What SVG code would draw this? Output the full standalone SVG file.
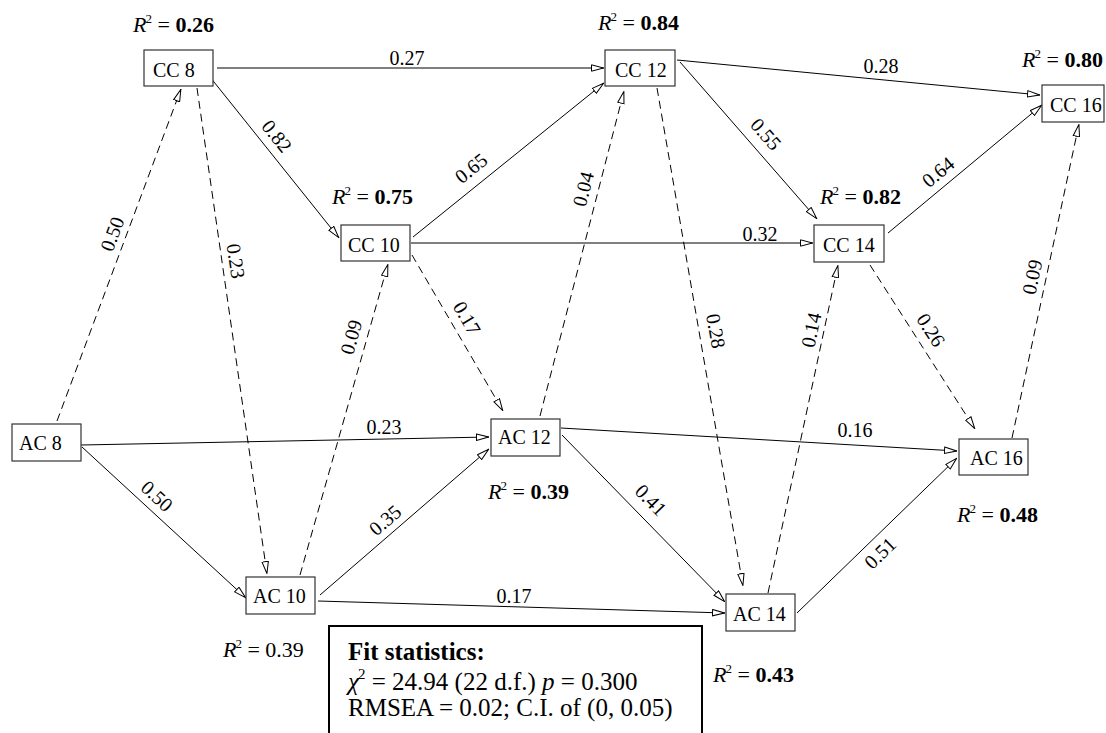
<svg xmlns="http://www.w3.org/2000/svg" width="1106" height="733" viewBox="0 0 1106 733">
<style>
.box{fill:#fff;stroke:#333;stroke-width:1.2}
.nt{font-family:"Liberation Serif",serif;font-size:20px;fill:#000}
.el{font-family:"Liberation Serif",serif;font-size:20px;fill:#000;text-anchor:middle}
.r2{font-family:"Liberation Serif",serif;font-size:22px;fill:#000}
.b{font-weight:bold}
.it{font-style:italic}
.sl{fill:none;stroke:#000;stroke-width:1;marker-end:url(#ah)}
.dl{fill:none;stroke:#000;stroke-width:1;stroke-dasharray:8 5;marker-end:url(#ah)}
.fit{font-family:"Liberation Serif",serif;font-size:25px;fill:#000}
</style>
<defs>
<marker id="ah" viewBox="0 0 13 8" refX="13" refY="4" markerWidth="13" markerHeight="8" markerUnits="userSpaceOnUse" orient="auto">
<path d="M0.5,0.8 L12.5,4 L0.5,7.2 z" fill="#fff" stroke="#000" stroke-width="1"/>
</marker>
</defs>
<rect width="1106" height="733" fill="#fff"/>
<g id="connectors">
<line class="sl" x1="217" y1="68" x2="604" y2="68"/>
<line class="sl" x1="210" y1="77" x2="339" y2="238"/>
<line class="sl" x1="413" y1="237" x2="604" y2="83"/>
<line class="sl" x1="411" y1="243" x2="813" y2="243"/>
<line class="sl" x1="677" y1="60" x2="1040" y2="95"/>
<line class="sl" x1="680" y1="62" x2="817" y2="219"/>
<line class="sl" x1="888" y1="233" x2="1042" y2="105"/>
<line class="sl" x1="81" y1="445" x2="489" y2="437"/>
<line class="sl" x1="82" y1="447" x2="246" y2="598"/>
<line class="sl" x1="320" y1="595" x2="489" y2="449"/>
<line class="sl" x1="318" y1="601" x2="725" y2="613"/>
<line class="sl" x1="561" y1="428" x2="957" y2="451"/>
<line class="sl" x1="562" y1="435" x2="725" y2="602"/>
<line class="sl" x1="797" y1="613" x2="957" y2="458"/>
<line class="dl" x1="57" y1="421" x2="181" y2="89"/>
<line class="dl" x1="197" y1="88" x2="267" y2="574"/>
<line class="dl" x1="300" y1="575" x2="388" y2="264"/>
<line class="dl" x1="412" y1="255" x2="503" y2="411"/>
<line class="dl" x1="540" y1="416" x2="624" y2="91"/>
<line class="dl" x1="657" y1="88" x2="743" y2="586"/>
<line class="dl" x1="768" y1="593" x2="838" y2="265"/>
<line class="dl" x1="870" y1="265" x2="975" y2="429"/>
<line class="dl" x1="1012" y1="438" x2="1079" y2="124"/>
<g id="edge-labels">
<text class="el" x="407" y="58" dy="0.35em">0.27</text>
<text class="el" x="881" y="66" dy="0.35em">0.28</text>
<text class="el" x="760" y="234" dy="0.35em">0.32</text>
<text class="el" x="384" y="427" dy="0.35em">0.23</text>
<text class="el" x="514" y="596" dy="0.35em">0.17</text>
<text class="el" x="855" y="430" dy="0.35em">0.16</text>
<text class="el" transform="translate(277,136) rotate(51.2)" dy="0.35em">0.82</text>
<text class="el" transform="translate(471,168) rotate(-39)" dy="0.35em">0.65</text>
<text class="el" transform="translate(766,134) rotate(48.9)" dy="0.35em">0.55</text>
<text class="el" transform="translate(938,172) rotate(-39.7)" dy="0.35em">0.64</text>
<text class="el" transform="translate(157,496) rotate(42.6)" dy="0.35em">0.50</text>
<text class="el" transform="translate(385,520) rotate(-40.8)" dy="0.35em">0.35</text>
<text class="el" transform="translate(651,500) rotate(45.7)" dy="0.35em">0.41</text>
<text class="el" transform="translate(880,553) rotate(-44)" dy="0.35em">0.51</text>
<text class="el" transform="translate(112,234) rotate(-69.5)" dy="0.35em">0.50</text>
<text class="el" transform="translate(236,261) rotate(81.8)" dy="0.35em">0.23</text>
<text class="el" transform="translate(351,337) rotate(-74.2)" dy="0.35em">0.09</text>
<text class="el" transform="translate(467,318) rotate(59.7)" dy="0.35em">0.17</text>
<text class="el" transform="translate(583,189) rotate(-75.5)" dy="0.35em">0.04</text>
<text class="el" transform="translate(716,331) rotate(80.2)" dy="0.35em">0.28</text>
<text class="el" transform="translate(811,330) rotate(-78)" dy="0.35em">0.14</text>
<text class="el" transform="translate(931,330) rotate(57.4)" dy="0.35em">0.26</text>
<text class="el" transform="translate(1032,277) rotate(-78)" dy="0.35em">0.09</text>
</g>
</g>
<g id="CC8"><rect class="box" x="144" y="50" width="69" height="36"/><text class="nt" x="153" y="77">CC 8</text>
<text class="r2" x="133" y="32"><tspan class="it">R</tspan><tspan font-size="13" dx="-1" dy="-9">2</tspan><tspan dy="9"> = </tspan><tspan class="b">0.26</tspan></text></g>
<g id="CC12"><rect class="box" x="605" y="50" width="70" height="36"/><text class="nt" x="615" y="77">CC 12</text>
<text class="r2" x="598" y="30"><tspan class="it">R</tspan><tspan font-size="13" dx="-1" dy="-9">2</tspan><tspan dy="9"> = </tspan><tspan class="b">0.84</tspan></text></g>
<g id="CC16"><rect class="box" x="1042" y="85" width="62" height="37"/><text class="nt" x="1050" y="112">CC 16</text>
<text class="r2" x="1022" y="67"><tspan class="it">R</tspan><tspan font-size="13" dx="-1" dy="-9">2</tspan><tspan dy="9"> = </tspan><tspan class="b">0.80</tspan></text></g>
<g id="CC10"><rect class="box" x="341" y="225" width="69" height="36"/><text class="nt" x="348" y="252">CC 10</text>
<text class="r2" x="332" y="204"><tspan class="it">R</tspan><tspan font-size="13" dx="-1" dy="-9">2</tspan><tspan dy="9"> = </tspan><tspan class="b">0.75</tspan></text></g>
<g id="CC14"><rect class="box" x="814" y="225" width="70" height="37"/><text class="nt" x="823" y="252">CC 14</text>
<text class="r2" x="820" y="204"><tspan class="it">R</tspan><tspan font-size="13" dx="-1" dy="-9">2</tspan><tspan dy="9"> = </tspan><tspan class="b">0.82</tspan></text></g>
<g id="AC8"><rect class="box" x="12" y="424" width="69" height="37"/><text class="nt" x="19" y="450">AC 8</text></g>
<g id="AC12"><rect class="box" x="491" y="419" width="69" height="37"/><text class="nt" x="498" y="444">AC 12</text>
<text class="r2" x="488" y="499"><tspan class="it">R</tspan><tspan font-size="13" dx="-1" dy="-9">2</tspan><tspan dy="9"> = </tspan><tspan class="b">0.39</tspan></text></g>
<g id="AC16"><rect class="box" x="959" y="439" width="69" height="36"/><text class="nt" x="970" y="465">AC 16</text>
<text class="r2" x="957" y="522"><tspan class="it">R</tspan><tspan font-size="13" dx="-1" dy="-9">2</tspan><tspan dy="9"> = </tspan><tspan class="b">0.48</tspan></text></g>
<g id="AC10"><rect class="box" x="246" y="577" width="69" height="37"/><text class="nt" x="253" y="603">AC 10</text>
<text class="r2" x="223" y="657"><tspan class="it">R</tspan><tspan font-size="13" dx="-1" dy="-9">2</tspan><tspan dy="9"> = 0.39</tspan></text></g>
<g id="AC14"><rect class="box" x="726" y="594" width="69" height="37"/><text class="nt" x="733" y="621">AC 14</text>
<text class="r2" x="713" y="682"><tspan class="it">R</tspan><tspan font-size="13" dx="-1" dy="-9">2</tspan><tspan dy="9"> = </tspan><tspan class="b">0.43</tspan></text></g>
<g id="fit">
<rect x="329" y="626" width="373" height="120" fill="#fff" stroke="#000" stroke-width="2"/>
<text class="fit b" x="348" y="660">Fit statistics:</text>
<text class="fit" x="348" y="690"><tspan class="it">χ</tspan><tspan font-size="15" dx="-1" dy="-11">2</tspan><tspan dy="11"> = 24.94 (22 d.f.) </tspan><tspan class="it">p</tspan><tspan> = 0.300</tspan></text>
<text class="fit" x="348" y="716">RMSEA = 0.02; C.I. of (0, 0.05)</text>
</g>
</svg>
